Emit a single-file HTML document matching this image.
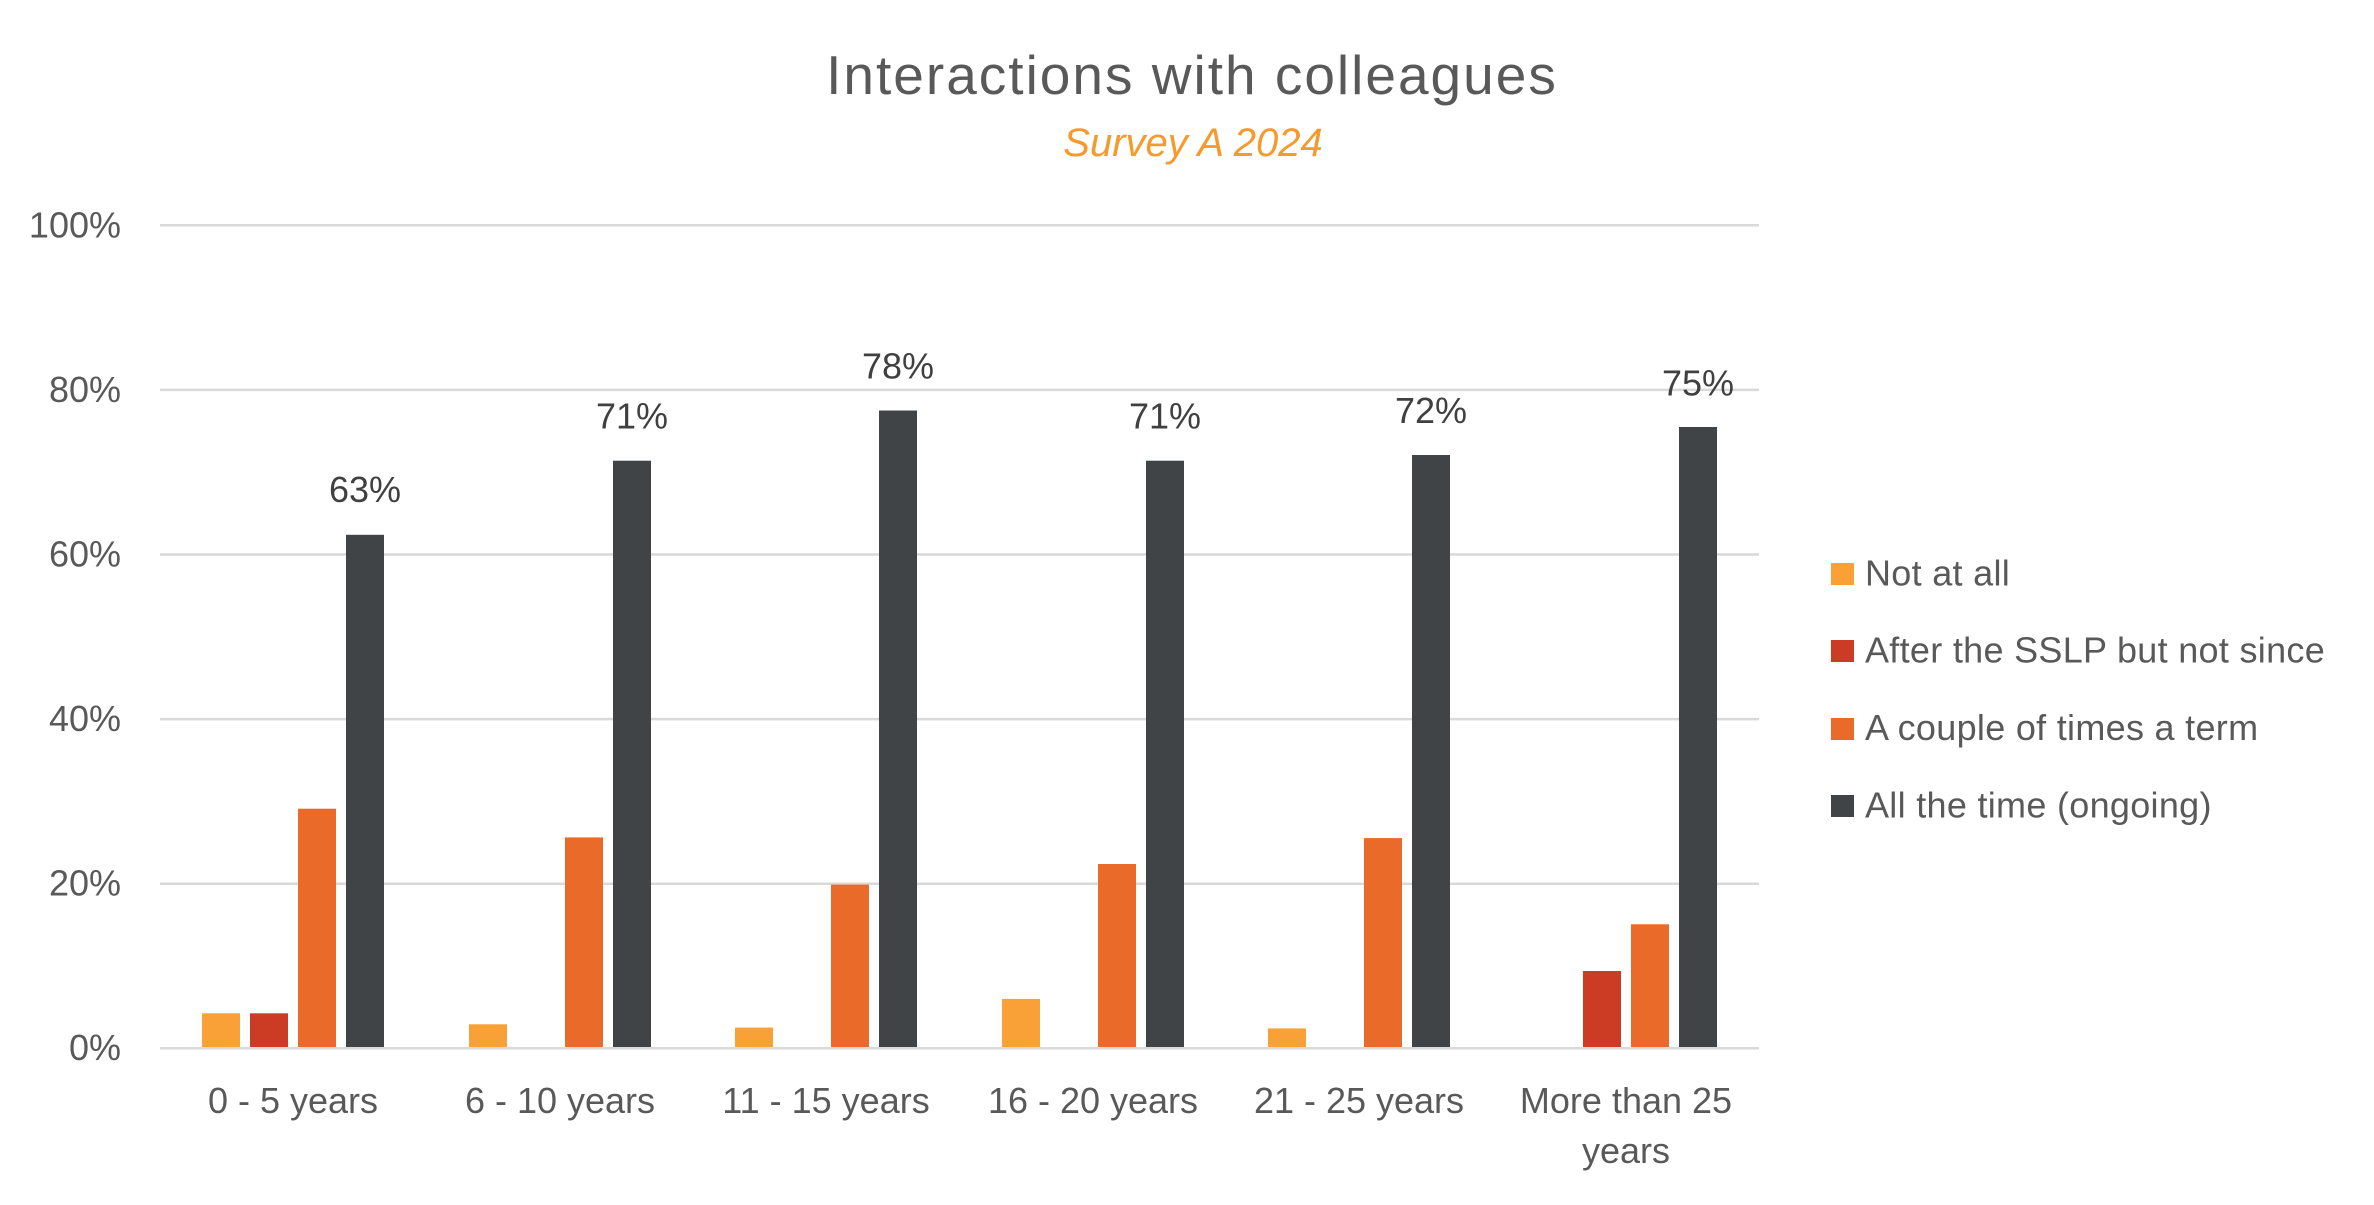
<!DOCTYPE html>
<html>
<head>
<meta charset="utf-8">
<style>
  html, body { margin:0; padding:0; background:#ffffff; }
  svg { display:block; }
  text { font-family: "Liberation Sans", Arial, sans-serif; }
</style>
</head>
<body>
<svg width="2374" height="1205" viewBox="0 0 2374 1205" xmlns="http://www.w3.org/2000/svg">
  <rect x="0" y="0" width="2374" height="1205" fill="#ffffff"/>

  <!-- Title -->
  <text x="1192" y="94" font-size="55" letter-spacing="2" fill="#595959" text-anchor="middle">Interactions with colleagues</text>
  <text x="1193" y="156" font-size="40" font-style="italic" fill="#F79A2E" text-anchor="middle">Survey A 2024</text>

  <!-- Gridlines -->
  <g stroke="#D9D9D9" stroke-width="2.5">
    <line x1="160" y1="225.3" x2="1759" y2="225.3"/>
    <line x1="160" y1="389.9" x2="1759" y2="389.9"/>
    <line x1="160" y1="554.5" x2="1759" y2="554.5"/>
    <line x1="160" y1="719.1" x2="1759" y2="719.1"/>
    <line x1="160" y1="883.7" x2="1759" y2="883.7"/>
    <line x1="160" y1="1048.3" x2="1759" y2="1048.3"/>
  </g>

  <!-- Y tick labels -->
  <g font-size="36" fill="#595959" text-anchor="end">
    <text x="121" y="237.5">100%</text>
    <text x="121" y="402">80%</text>
    <text x="121" y="566.5">60%</text>
    <text x="121" y="731">40%</text>
    <text x="121" y="895.5">20%</text>
    <text x="121" y="1060">0%</text>
  </g>

  <!-- Bars: baseline 1047, 8.23 px per % -->
  <!-- Group 1 (start 202) -->
  <rect x="202" y="1013.3" width="38" height="33.7" fill="#F9A036"/>
  <rect x="250" y="1013.3" width="38" height="33.7" fill="#CC3B24"/>
  <rect x="298" y="808.7" width="38" height="238.3" fill="#E96A29"/>
  <rect x="346" y="534.8" width="38" height="512.2" fill="#404447"/>

  <!-- Group 2 (start 469) -->
  <rect x="469" y="1024.3" width="38" height="22.7" fill="#F9A036"/>
  <rect x="565" y="837.4" width="38" height="209.6" fill="#E96A29"/>
  <rect x="613" y="460.7" width="38" height="586.3" fill="#404447"/>

  <!-- Group 3 (start 735) -->
  <rect x="735" y="1027.6" width="38" height="19.4" fill="#F9A036"/>
  <rect x="831" y="884.6" width="38" height="162.4" fill="#E96A29"/>
  <rect x="879" y="410.5" width="38" height="636.5" fill="#404447"/>

  <!-- Group 4 (start 1002) -->
  <rect x="1002" y="998.9" width="38" height="48.1" fill="#F9A036"/>
  <rect x="1098" y="864.0" width="38" height="183.0" fill="#E96A29"/>
  <rect x="1146" y="460.7" width="38" height="586.3" fill="#404447"/>

  <!-- Group 5 (start 1268) -->
  <rect x="1268" y="1028.4" width="38" height="18.6" fill="#F9A036"/>
  <rect x="1364" y="838.1" width="38" height="208.9" fill="#E96A29"/>
  <rect x="1412" y="455.0" width="38" height="592.0" fill="#404447"/>

  <!-- Group 6 (start 1535) -->
  <rect x="1583" y="971.0" width="38" height="76.0" fill="#CC3B24"/>
  <rect x="1631" y="924.3" width="38" height="122.7" fill="#E96A29"/>
  <rect x="1679" y="427.0" width="38" height="620.0" fill="#404447"/>

  <!-- Data labels -->
  <g font-size="36" fill="#404040" text-anchor="middle">
    <text x="365" y="502">63%</text>
    <text x="632" y="428.5">71%</text>
    <text x="898" y="378.5">78%</text>
    <text x="1165" y="428.5">71%</text>
    <text x="1431" y="423">72%</text>
    <text x="1698" y="395.5">75%</text>
  </g>

  <!-- Category labels -->
  <g font-size="36" fill="#595959" text-anchor="middle">
    <text x="293" y="1113">0 - 5 years</text>
    <text x="560" y="1113">6 - 10 years</text>
    <text x="826" y="1113">11 - 15 years</text>
    <text x="1093" y="1113">16 - 20 years</text>
    <text x="1359" y="1113">21 - 25 years</text>
    <text x="1626" y="1113">More than 25</text>
    <text x="1626" y="1163">years</text>
  </g>

  <!-- Legend -->
  <rect x="1831" y="563" width="23" height="22" fill="#F9A036"/>
  <rect x="1831" y="640" width="23" height="22" fill="#CC3B24"/>
  <rect x="1831" y="718" width="23" height="22" fill="#E96A29"/>
  <rect x="1831" y="795" width="23" height="22" fill="#404447"/>
  <g font-size="36" fill="#595959" letter-spacing="0.3">
    <text x="1865" y="585.7">Not at all</text>
    <text x="1865" y="662.5">After the SSLP but not since</text>
    <text x="1865" y="740">A couple of times a term</text>
    <text x="1865" y="817.5">All the time (ongoing)</text>
  </g>
</svg>
</body>
</html>
